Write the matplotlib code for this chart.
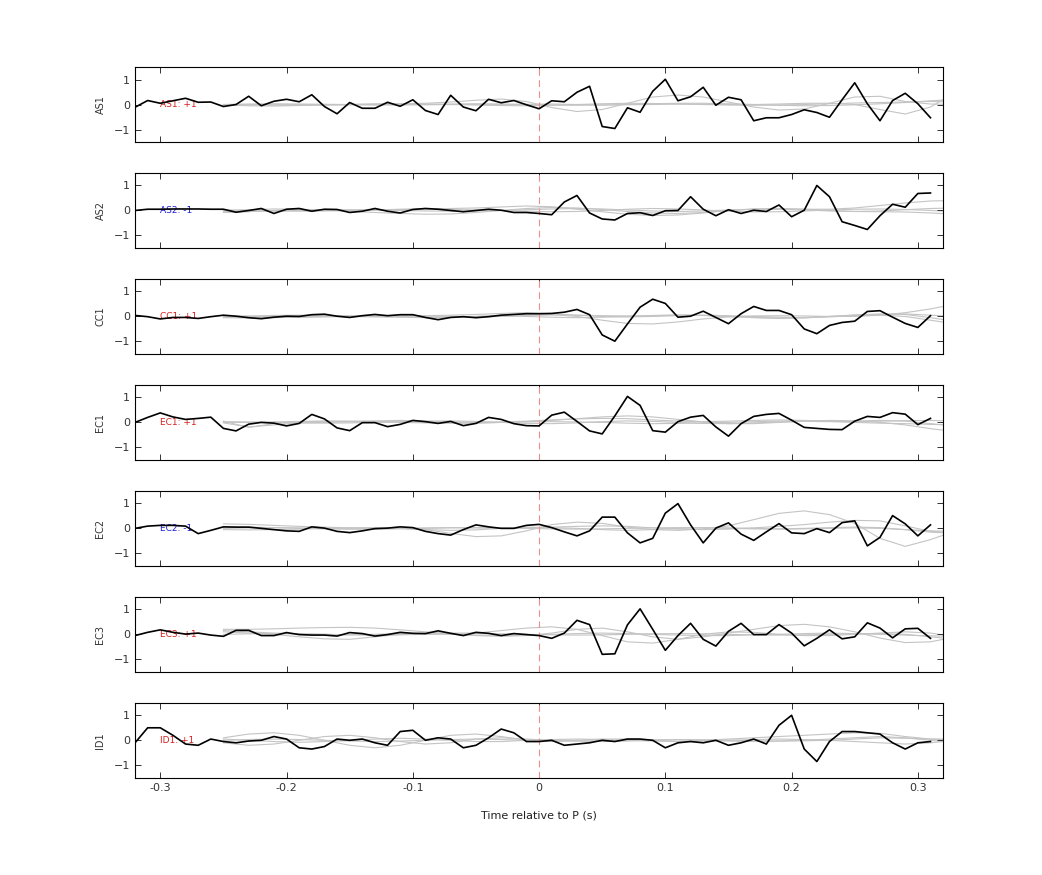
import numpy as np
import matplotlib
matplotlib.use("Agg")
import matplotlib.pyplot as plt

# ----------------------------------------------------------------------------
# data
# ----------------------------------------------------------------------------
stations = ["AS1", "AS2", "CC1", "EC1", "EC2", "EC3", "ID1"]
polarity = ["+1", "-1", "+1", "+1", "-1", "+1", "+1"]

# black trace: one sample every 0.01 s from -0.32 to 0.31
t_trace = np.round(np.arange(-32, 32) * 0.01, 2)
# gray traces: one sample every 0.02 s from -0.25 to 0.33
t_gray = np.round(-0.25 + np.arange(30) * 0.02, 2)

as1_trace = [-0.11, 0.16, 0.05, 0.15, 0.25, 0.09, 0.1, -0.08, 0, 0.33, -0.05, 0.13, 0.21, 0.11, 0.39, -0.08,
             -0.37, 0.08, -0.15, -0.15, 0.09, -0.07, 0.19, -0.24, -0.4, 0.37, -0.1, -0.25, 0.21, 0.07, 0.16, -0.01,
             -0.17, 0.15, 0.11, 0.49, 0.73, -0.88, -0.96, -0.13, -0.31, 0.53, 1.01, 0.15, 0.31, 0.69, -0.03, 0.29,
             0.19, -0.65, -0.53, -0.53, -0.4, -0.21, -0.32, -0.51, 0.19, 0.87, 0.03, -0.65, 0.16, 0.45, 0.03, -0.53]
as2_trace = [0, 0.05, 0.05, 0.06, 0.06, 0.06, 0.05, 0.05, -0.07, 0, 0.08, -0.12, 0.05, 0.08, -0.03, 0.05,
             0.04, -0.08, -0.03, 0.08, -0.03, -0.1, 0.04, 0.08, 0.05, 0, -0.05, 0, 0.05, 0.01, -0.08, -0.08,
             -0.12, -0.17, 0.34, 0.6, -0.1, -0.34, -0.38, -0.12, -0.09, -0.2, -0.01, 0, 0.55, 0.05, -0.21, 0.03,
             -0.12, 0.01, -0.04, 0.22, -0.25, 0.01, 1.0, 0.55, -0.45, -0.6, -0.76, -0.21, 0.25, 0.13, 0.68, 0.7]
cc1_trace = [0.04, -0.01, -0.1, -0.04, -0.04, -0.08, -0.01, 0.05, 0.01, -0.05, -0.09, -0.03, 0.01, 0, 0.07, 0.09,
             0.01, -0.04, 0.03, 0.08, 0.03, 0.07, 0.07, -0.04, -0.13, -0.04, -0.01, -0.05, -0.01, 0.05, 0.08, 0.11,
             0.11, 0.12, 0.17, 0.28, 0.07, -0.74, -0.99, -0.3, 0.37, 0.69, 0.52, -0.03, 0.01, 0.21, -0.04, -0.29,
             0.11, 0.4, 0.24, 0.24, 0.07, -0.5, -0.69, -0.36, -0.24, -0.19, 0.2, 0.23, -0.03, -0.28, -0.44, 0.03]
ec1_trace = [0, 0.2, 0.38, 0.22, 0.12, 0.16, 0.21, -0.24, -0.34, -0.07, 0, -0.03, -0.14, -0.04, 0.32, 0.14,
             -0.22, -0.33, -0.01, -0.01, -0.17, -0.08, 0.08, 0.03, -0.04, 0.04, -0.13, -0.04, 0.2, 0.12, -0.05, -0.13,
             -0.14, 0.29, 0.41, 0.04, -0.34, -0.46, 0.26, 1.04, 0.68, -0.33, -0.39, 0.03, 0.21, 0.28, -0.18, -0.55,
             -0.05, 0.24, 0.32, 0.36, 0.09, -0.2, -0.24, -0.28, -0.29, 0.05, 0.24, 0.2, 0.39, 0.33, -0.09, 0.16]
ec2_trace = [0, 0.09, 0.12, 0.12, 0.09, -0.21, -0.08, 0.06, 0.05, 0.05, 0, -0.05, -0.1, -0.12, 0.06, 0.01,
             -0.12, -0.17, -0.1, -0.01, 0.01, 0.06, 0.03, -0.12, -0.21, -0.27, -0.05, 0.14, 0.06, 0, 0, 0.12,
             0.16, 0.03, -0.14, -0.3, -0.1, 0.45, 0.45, -0.18, -0.58, -0.4, 0.61, 0.99, 0.14, -0.58, 0.01, 0.22,
             -0.23, -0.48, -0.14, 0.19, -0.18, -0.21, -0.01, -0.17, 0.23, 0.3, -0.7, -0.36, 0.51, 0.18, -0.3, 0.14]
ec3_trace = [-0.05, 0.08, 0.18, 0.08, 0.01, 0.05, -0.03, -0.08, 0.16, 0.16, -0.05, -0.05, 0.07, -0.01, -0.03, -0.03,
             -0.07, 0.07, 0.03, -0.07, -0.01, 0.08, 0.04, 0.03, 0.14, 0.04, -0.05, 0.08, 0.04, -0.05, 0.03, -0.01,
             -0.05, -0.16, 0.05, 0.56, 0.39, -0.8, -0.78, 0.38, 1.02, 0.2, -0.64, -0.05, 0.44, -0.2, -0.47, 0.12,
             0.44, -0.01, -0.01, 0.39, 0.05, -0.46, -0.16, 0.18, -0.18, -0.1, 0.46, 0.25, -0.14, 0.22, 0.24, -0.16]
id1_trace = [-0.1, 0.5, 0.5, 0.2, -0.15, -0.2, 0.05, -0.05, -0.1, -0.03, 0.0, 0.15, 0.05, -0.3, -0.35, -0.25,
             0.05, 0.0, 0.05, -0.1, -0.2, 0.35, 0.4, 0.0, 0.1, 0.05, -0.3, -0.2, 0.1, 0.45, 0.3, -0.05,
             -0.05, 0.0, -0.2, -0.15, -0.1, 0.0, -0.05, 0.05, 0.05, 0.0, -0.3, -0.1, -0.05, -0.1, 0.0, -0.2,
             -0.1, 0.05, -0.15, 0.6, 1.0, -0.35, -0.85, -0.05, 0.35, 0.35, 0.3, 0.25, -0.1, -0.35, -0.1, -0.05]

as1_gray = [
    [0.0, 0.0, -0.02, -0.03, -0.02, 0.0, 0.02, 0.03, 0.05, 0.1, 0.17, 0.22, 0.12, -0.12, -0.28, -0.2, 0.05, 0.3, 0.38, 0.3, 0.1, -0.1, -0.22, -0.18, 0.05, 0.3, 0.33, 0.12, 0.02, 0.0],
    [0.0, -0.01, -0.01, 0.0, 0.01, 0.0, 0.0, -0.01, -0.01, 0.0, 0.01, 0.0, 0.01, 0.02, 0.0, -0.02, -0.01, 0.0, 0.02, 0.01, 0.0, 0.0, 0.02, 0.05, 0.05, 0.0, -0.2, -0.38, -0.1, 0.5],
    [-0.02, -0.05, -0.06, -0.04, -0.02, 0.0, 0.02, 0.03, 0.02, 0.0, -0.02, -0.04, -0.05, -0.03, 0.0, 0.03, 0.05, 0.04, 0.02, 0.0, -0.02, -0.03, -0.02, 0.0, 0.03, 0.06, 0.08, 0.1, 0.12, 0.1],
    [0.0, 0.02, 0.03, 0.02, 0.0, -0.01, -0.02, -0.01, 0.0, 0.02, 0.03, 0.02, 0.0, -0.02, -0.03, -0.02, 0.0, 0.03, 0.05, 0.05, 0.03, 0.0, -0.03, -0.05, -0.04, -0.01, 0.03, 0.08, 0.15, 0.2],
]
as2_gray = [
    [-0.08, -0.05, 0.0, 0.03, 0.02, -0.03, -0.08, -0.12, -0.15, -0.14, -0.08, 0.0, 0.08, 0.12, 0.1, 0.04, -0.04, -0.1, -0.12, -0.08, 0.0, 0.06, 0.08, 0.05, 0.0, -0.04, -0.05, -0.06, -0.1, -0.15],
    [0.0, 0.03, 0.06, 0.05, 0.02, 0.0, 0.02, 0.05, 0.07, 0.08, 0.1, 0.14, 0.18, 0.15, 0.05, -0.05, -0.15, -0.2, -0.18, -0.1, 0.0, 0.05, 0.06, 0.05, 0.05, 0.1, 0.2, 0.3, 0.38, 0.4],
    [-0.05, -0.04, -0.02, 0.0, 0.02, 0.03, 0.02, 0.0, -0.02, -0.03, -0.02, 0.0, 0.03, 0.06, 0.08, 0.06, 0.02, -0.02, -0.04, -0.02, 0.02, 0.05, 0.05, 0.02, -0.02, -0.04, -0.02, 0.03, 0.08, 0.1],
    [0.02, 0.0, -0.02, -0.03, -0.02, 0.0, 0.02, 0.04, 0.05, 0.04, 0.02, 0.0, -0.03, -0.05, -0.04, 0.0, 0.05, 0.08, 0.06, 0.02, -0.03, -0.06, -0.05, -0.02, 0.02, 0.05, 0.06, 0.04, 0.0, -0.05],
]
cc1_gray = [
    [-0.05, -0.06, -0.05, -0.02, 0.0, 0.02, 0.0, -0.03, -0.05, -0.04, 0.0, 0.05, 0.1, 0.08, 0.0, -0.15, -0.28, -0.3, -0.22, -0.1, -0.02, 0.02, 0.03, 0.02, 0.0, 0.0, 0.05, 0.15, 0.3, 0.5],
    [0.0, 0.02, 0.04, 0.05, 0.03, 0.0, -0.02, 0.0, 0.03, 0.05, 0.08, 0.12, 0.15, 0.1, 0.05, 0.0, -0.02, 0.0, 0.03, 0.05, 0.03, 0.0, -0.03, -0.05, -0.02, 0.03, 0.05, 0.0, -0.15, -0.3],
    [-0.03, -0.02, 0.0, 0.02, 0.03, 0.02, 0.0, -0.02, -0.03, -0.02, 0.0, 0.02, 0.0, -0.03, -0.05, -0.03, 0.0, 0.04, 0.06, 0.04, 0.0, -0.04, -0.06, -0.04, 0.0, 0.06, 0.1, 0.08, -0.05, -0.2],
    [0.02, 0.0, -0.03, -0.04, -0.02, 0.0, 0.03, 0.04, 0.02, 0.0, -0.02, 0.0, 0.04, 0.06, 0.05, 0.03, 0.02, 0.03, 0.05, 0.04, 0.0, -0.05, -0.08, -0.06, 0.0, 0.05, 0.08, 0.1, 0.05, 0.0],
]
ec1_gray = [
    [-0.02, -0.18, -0.1, -0.02, 0.0, 0.02, 0.03, 0.02, 0.0, -0.02, -0.03, 0.0, 0.03, 0.08, 0.15, 0.22, 0.26, 0.22, 0.12, 0.02, -0.05, -0.05, 0.0, 0.05, 0.08, 0.06, 0.0, -0.1, -0.25, -0.37],
    [0.05, -0.2, -0.05, 0.03, 0.05, 0.05, 0.06, 0.08, 0.05, 0.02, 0.0, 0.02, 0.05, 0.1, 0.14, 0.16, 0.15, 0.1, 0.05, 0.03, 0.05, 0.08, 0.1, 0.08, 0.05, 0.05, 0.08, 0.05, -0.05, -0.15],
    [0.0, 0.0, 0.02, 0.04, 0.05, 0.04, 0.02, 0.0, -0.02, -0.03, -0.02, 0.0, 0.02, 0.03, 0.02, 0.0, -0.03, -0.05, -0.04, -0.02, 0.0, 0.03, 0.05, 0.06, 0.05, 0.04, 0.05, 0.07, 0.08, 0.05],
    [0.03, 0.02, 0.0, -0.02, -0.03, -0.02, 0.0, 0.03, 0.05, 0.06, 0.04, 0.0, -0.04, -0.05, -0.02, 0.03, 0.06, 0.04, 0.0, -0.04, -0.05, -0.02, 0.02, 0.04, 0.03, 0.0, -0.03, -0.05, -0.08, -0.1],
]
ec2_gray = [
    [0.05, 0.05, 0.03, 0.0, -0.02, -0.03, -0.02, 0.0, -0.05, -0.2, -0.33, -0.3, -0.1, 0.15, 0.25, 0.2, 0.05, -0.05, -0.08, -0.02, 0.1, 0.35, 0.6, 0.7, 0.55, 0.2, -0.4, -0.72, -0.45, -0.1],
    [0.18, 0.16, 0.12, 0.08, 0.05, 0.02, 0.0, 0.0, 0.02, 0.03, 0.02, 0.0, 0.02, 0.05, 0.08, 0.1, 0.08, 0.02, -0.03, -0.05, -0.03, 0.02, 0.08, 0.15, 0.25, 0.32, 0.3, 0.1, -0.12, -0.2],
    [-0.05, -0.06, -0.05, -0.03, 0.0, 0.02, 0.03, 0.0, -0.05, -0.08, -0.06, 0.0, 0.05, 0.03, 0.0, -0.05, -0.08, -0.05, 0.0, 0.03, 0.02, 0.0, -0.02, 0.0, 0.03, 0.05, 0.03, -0.05, -0.15, -0.2],
    [0.0, 0.02, 0.03, 0.02, 0.0, -0.02, -0.03, -0.02, 0.0, 0.02, 0.03, 0.02, 0.0, -0.02, -0.03, -0.02, 0.0, 0.02, 0.03, 0.02, 0.0, -0.02, -0.03, -0.02, 0.0, 0.02, 0.0, -0.05, -0.1, -0.12],
]
ec3_gray = [
    [0.2, 0.2, 0.22, 0.25, 0.27, 0.28, 0.25, 0.18, 0.1, 0.02, -0.05, -0.08, -0.05, 0.05, 0.2, 0.25, 0.1, -0.1, -0.2, -0.1, 0.05, 0.2, 0.35, 0.4, 0.3, 0.1, -0.15, -0.33, -0.3, -0.1],
    [0.1, 0.05, 0.0, -0.1, -0.18, -0.2, -0.1, 0.0, 0.05, 0.05, 0.05, 0.15, 0.25, 0.3, 0.2, -0.05, -0.3, -0.35, -0.2, 0.0, 0.1, 0.08, 0.0, -0.05, -0.05, 0.0, 0.05, 0.1, 0.05, -0.1],
    [0.15, 0.1, 0.05, 0.02, 0.0, -0.02, 0.0, 0.03, 0.02, 0.0, -0.03, -0.05, -0.03, 0.0, 0.03, 0.05, 0.03, 0.0, -0.03, -0.05, -0.05, -0.02, 0.0, 0.03, 0.05, 0.03, 0.0, -0.03, -0.06, -0.08],
    [0.0, 0.02, 0.03, 0.02, 0.0, -0.02, -0.03, -0.02, 0.0, 0.02, 0.03, 0.02, 0.0, -0.02, -0.03, -0.02, 0.0, 0.02, 0.03, 0.02, 0.0, -0.02, -0.03, -0.02, 0.0, 0.02, 0.03, 0.0, -0.1, -0.2],
]
id1_gray = [
    [0.1, 0.25, 0.3, 0.2, 0.0, -0.2, -0.3, -0.2, 0.0, 0.2, 0.25, 0.15, 0.0, -0.05, 0.0, 0.05, 0.05, 0.0, -0.05, 0.0, 0.05, 0.1, 0.15, 0.2, 0.25, 0.3, 0.28, 0.15, 0.05, 0.0],
    [-0.1, -0.2, -0.15, 0.0, 0.15, 0.2, 0.1, -0.05, -0.15, -0.1, 0.05, 0.1, 0.05, 0.0, -0.03, -0.05, -0.03, 0.0, 0.02, 0.0, -0.03, -0.05, -0.03, 0.0, 0.05, 0.1, 0.15, 0.1, 0.0, -0.1],
    [0.05, 0.0, -0.05, -0.08, -0.05, 0.0, 0.05, 0.08, 0.05, 0.0, -0.05, -0.05, 0.0, 0.03, 0.05, 0.03, 0.0, -0.03, -0.05, -0.03, 0.0, 0.03, 0.05, 0.03, 0.0, -0.05, -0.1, -0.15, -0.1, 0.0],
    [0.0, 0.03, 0.05, 0.03, 0.0, -0.03, -0.05, -0.03, 0.0, 0.03, 0.05, 0.03, 0.0, -0.02, -0.03, -0.02, 0.0, 0.02, 0.03, 0.02, 0.0, -0.02, -0.03, -0.02, 0.0, 0.05, 0.1, 0.08, 0.05, 0.05],
]

traces = [as1_trace, as2_trace, cc1_trace, ec1_trace, ec2_trace, ec3_trace, id1_trace]
grays = [as1_gray, as2_gray, cc1_gray, ec1_gray, ec2_gray, ec3_gray, id1_gray]

# ----------------------------------------------------------------------------
# figure
# ----------------------------------------------------------------------------
plt.rcParams['font.family'] = ['DejaVu Sans']
fig = plt.figure(figsize=(10.42, 8.75), dpi=100)

left, width = 0.1296, 0.7755
height = 0.0857
top0 = 0.9234
step = 0.1211

for i, sta in enumerate(stations):
    bottom = top0 - height - i * step
    ax = fig.add_axes([left, bottom, width, height])

    for g in grays[i]:
        ax.plot(t_gray, g, color='#c4c4c4', lw=0.8, zorder=1)
    ax.axvline(0, color='#ef8c8c', lw=0.8, ls=(0, (6, 4)), zorder=2)
    ax.plot(t_trace, traces[i], color='black', lw=1.2, zorder=3)

    col = '#d81e1e' if polarity[i] == '+1' else '#1e1ed8'
    ax.text(-0.3, 0, f"{sta}: {polarity[i]}", color=col, fontsize=6.5,
            va='center', ha='left', zorder=2)

    ax.set_xlim(-0.32, 0.32)
    ax.set_ylim(-1.5, 1.5)
    ax.set_yticks([-1, 0, 1])
    ax.set_xticks([-0.3, -0.2, -0.1, 0, 0.1, 0.2, 0.3])
    ax.tick_params(direction='in', top=True, right=True, length=4, width=0.7,
                   labelsize=8, colors='#333333')
    for sp in ax.spines.values():
        sp.set_linewidth(0.8)
    ax.set_ylabel(sta, fontsize=7, color='#333333', labelpad=6)

    if i == len(stations) - 1:
        ax.set_xticklabels(['-0.3', '-0.2', '-0.1', '0', '0.1', '0.2', '0.3'])
        ax.set_xlabel('Time relative to P (s)', fontsize=8, color='#222222', labelpad=13)
    else:
        ax.set_xticklabels([])

fig.savefig('out.png', dpi=100)
